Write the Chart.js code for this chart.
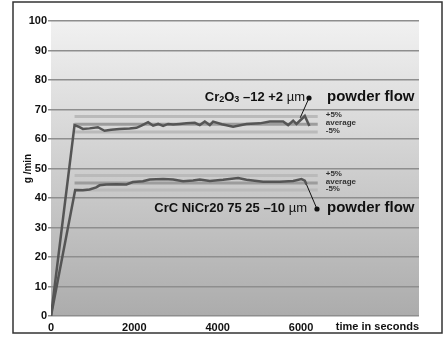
<!DOCTYPE html>
<html>
<head>
<meta charset="utf-8">
<script src="https://cdn.jsdelivr.net/npm/chart.js@4.4.1/dist/chart.umd.min.js"></script>
<style>
  html, body { margin: 0; padding: 0; background: #fff; }
</style>
</head>
<body>
<canvas id="myChart" width="445" height="337"></canvas>
<script>
// Cr2O3 -12 +2 µm powder flow
const upperTime = [0, 565, 685, 765, 925, 1125, 1285, 1445, 1645, 1885, 2050, 2170, 2330, 2450, 2570, 2690, 2810, 2930, 3090, 3250, 3450, 3570, 3690, 3810, 3890, 4100, 4370, 4690, 5010, 5250, 5570, 5690, 5810, 5890, 6090, 6200];
const upperFlow = [0, 64.7, 64.0, 63.4, 63.6, 64.0, 62.8, 63.1, 63.4, 63.6, 63.8, 64.5, 65.7, 64.5, 65.1, 64.4, 65.1, 64.9, 65.1, 65.3, 65.5, 64.7, 65.9, 64.7, 65.9, 65.0, 64.2, 65.1, 65.3, 65.9, 65.9, 64.7, 66.2, 65.1, 67.8, 64.4];

// CrC NiCr 20 75 25 -10 µm powder flow
const lowerTime = [0, 580, 765, 925, 1085, 1165, 1325, 1565, 1810, 1965, 2205, 2370, 2690, 2930, 3170, 3410, 3570, 3810, 4130, 4490, 4690, 5090, 5490, 5810, 6010, 6090, 6130];
const lowerFlow = [0, 42.7, 42.6, 42.9, 43.6, 44.3, 44.6, 44.7, 44.6, 45.4, 45.7, 46.3, 46.4, 46.3, 45.7, 45.9, 46.3, 45.8, 46.2, 46.8, 46.2, 45.5, 45.5, 45.8, 46.4, 45.9, 44.6];

// +5% / average / -5% bands
const refNames = ["+5%", "average", "-5%"];
const upperRef = [67.6, 65.0, 62.4];
const lowerRef = [47.6, 45.1, 42.7];
const refStart = 565;
const refEnd = 6400;

const xTicks = [0, 2000, 4000, 6000];
const yTicks = [0, 10, 20, 30, 40, 50, 60, 70, 80, 90, 100];
const xMax = 8830;

const ctx = document.getElementById("myChart");
const FONT = "'Liberation Sans', Arial, sans-serif";

function toPoints(xs, ys) {
  return xs.map((x, i) => ({ x: x, y: ys[i] }));
}

// reference lines go under the measured lines
const refColors = ["#bababa", "#9c9c9c", "#bababa"];
let refSets = [];
[upperRef, lowerRef].forEach((refs) => {
  refs.forEach((v, i) => {
    refSets.push({
      data: [{ x: refStart, y: v }, { x: refEnd, y: v }],
      borderColor: refColors[i],
      borderWidth: 3,
      pointRadius: 0,
      showLine: true,
      order: 2,
    });
  });
});

// background gradient, frame
const framePlugin = {
  id: "frame",
  beforeDraw(chart) {
    const c = chart.ctx;
    const a = chart.chartArea;
    c.save();
    c.fillStyle = "#fff";
    c.fillRect(0, 0, chart.width, chart.height);
    const g = c.createLinearGradient(0, a.top, 0, a.bottom);
    g.addColorStop(0, "#f1f1f1");
    g.addColorStop(1, "#acacac");
    c.fillStyle = g;
    c.fillRect(a.left, a.top, a.right - a.left, a.bottom - a.top);
    c.restore();
  },
  afterDraw(chart) {
    const c = chart.ctx;
    const xs = chart.scales.x;
    const ys = chart.scales.y;
    c.save();

    // band labels
    c.fillStyle = "#333";
    c.font = "bold 8px " + FONT;
    c.textBaseline = "middle";
    c.textAlign = "left";
    const lx = xs.getPixelForValue(refEnd) + 8;
    [upperRef, lowerRef].forEach((refs) => {
      refs.forEach((v, i) => {
        c.fillText(refNames[i], lx, ys.getPixelForValue(v) - 1.5);
      });
    });

    // series labels
    function drawParts(parts, xRight, y) {
      let w = 0;
      parts.forEach((p) => {
        c.font = p.font;
        w += c.measureText(p.t).width;
      });
      let x = xRight - w;
      parts.forEach((p) => {
        c.font = p.font;
        c.fillText(p.t, x, y + (p.dy || 0));
        x += c.measureText(p.t).width;
      });
    }
    const big = "bold 13px " + FONT;
    const sub = "bold 9px " + FONT;
    const thin = "13px " + FONT;
    c.fillStyle = "#111";
    c.textBaseline = "middle";
    drawParts([
      { t: "Cr", font: big },
      { t: "2", font: sub, dy: 3 },
      { t: "O", font: big },
      { t: "3", font: sub, dy: 3 },
      { t: " \u201312 +2 ", font: big },
      { t: "\u00b5m", font: thin },
    ], 305, 97);
    drawParts([
      { t: "CrC NiCr20 75 25 \u201310 ", font: big },
      { t: "\u00b5m", font: thin },
    ], 307, 208);

    c.font = "bold 15px " + FONT;
    c.fillText("powder flow", 327, 97);
    c.fillText("powder flow", 327, 208);

    // pointers and dots
    c.strokeStyle = "#111";
    c.lineWidth = 1;
    c.beginPath();
    c.moveTo(309, 98);
    c.lineTo(xs.getPixelForValue(5980), ys.getPixelForValue(67.2));
    c.moveTo(xs.getPixelForValue(lowerTime[lowerTime.length - 1]), ys.getPixelForValue(lowerFlow[lowerFlow.length - 1]));
    c.lineTo(317, 209);
    c.stroke();
    c.fillStyle = "#111";
    [[309, 98], [317, 209]].forEach((d) => {
      c.beginPath();
      c.arc(d[0], d[1], 2.6, 0, Math.PI * 2);
      c.fill();
    });

    // axis caption in the tick row
    c.font = "bold 11px " + FONT;
    c.textAlign = "right";
    c.textBaseline = "middle";
    c.fillText("time in seconds", chart.chartArea.right, 327);

    // outer frame
    c.strokeStyle = "#333";
    c.lineWidth = 1.5;
    c.strokeRect(13, 2, 429, 331);
    c.restore();
  },
};

const myChart = new Chart(ctx, {
  type: "scatter",
  data: {
    datasets: [
      {
        data: toPoints(upperTime, upperFlow),
        borderColor: "#555",
        borderWidth: 2.5,
        pointRadius: 0,
        showLine: true,
        order: 1,
      },
      {
        data: toPoints(lowerTime, lowerFlow),
        borderColor: "#555",
        borderWidth: 2.5,
        pointRadius: 0,
        showLine: true,
        order: 1,
      },
    ].concat(refSets),
  },
  options: {
    responsive: false,
    animation: false,
    layout: { padding: { left: 14, right: 26, top: 21, bottom: 0 } },
    plugins: { legend: { display: false }, tooltip: { enabled: false } },
    scales: {
      x: {
        type: "linear",
        min: 0,
        max: xMax,
        border: { display: false },
        grid: { display: false, drawTicks: false },
        afterBuildTicks: (s) => { s.ticks = xTicks.map((v) => ({ value: v })); },
        afterFit: (s) => { s.height = 21; },
        ticks: {
          padding: 5,
          color: "#111",
          maxRotation: 0,
          autoSkip: false,
          callback: (v) => String(v),
          font: { family: FONT, weight: "bold", size: 11 },
        },
      },
      y: {
        min: 0,
        max: 100,
        border: { display: false },
        grid: { color: "#8e8e8e", lineWidth: 1.5, tickLength: 3, drawTicks: true },
        afterBuildTicks: (s) => { s.ticks = yTicks.map((v) => ({ value: v })); },
        afterFit: (s) => { s.width = 37; },
        ticks: {
          padding: 1,
          color: "#111",
          autoSkip: false,
          callback: (v) => String(v),
          font: { family: FONT, weight: "bold", size: 11 },
        },
        title: {
          display: true,
          text: "g /min",
          color: "#111",
          padding: { top: 8, bottom: 0 },
          font: { family: FONT, weight: "bold", size: 10 },
        },
      },
    },
  },
  plugins: [framePlugin],
});
</script>
</body>
</html>
